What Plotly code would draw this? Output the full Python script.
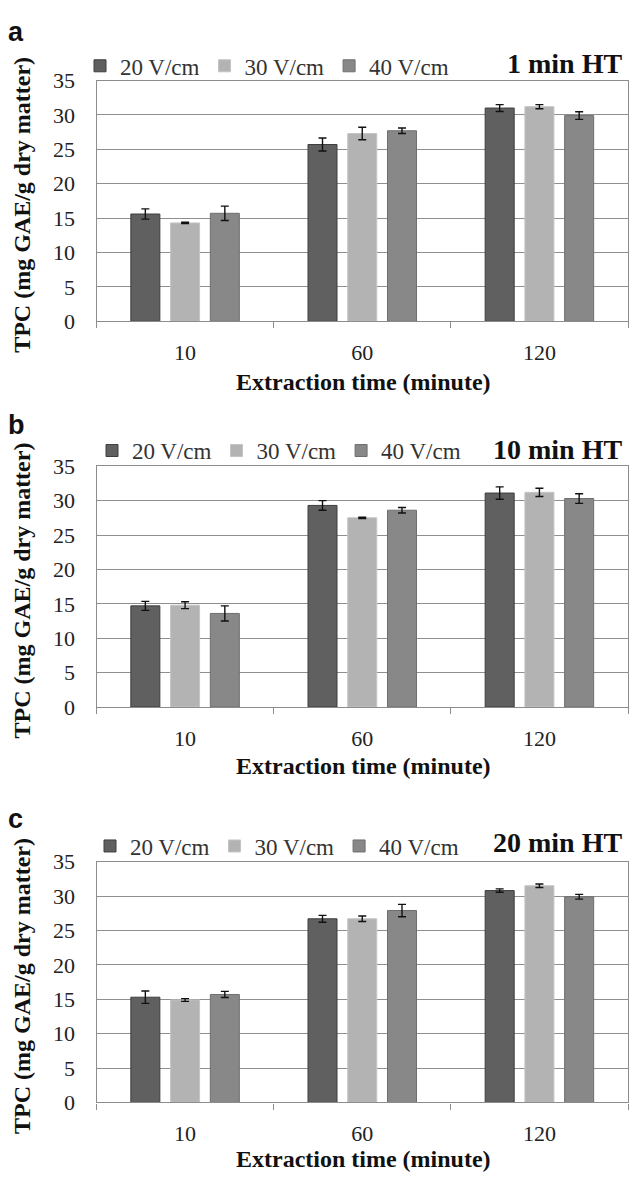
import plotly.graph_objects as go

W, H = 630, 1184

categories = ["10", "60", "120"]
series_names = ["20 V/cm", "30 V/cm", "40 V/cm"]
panel_titles = ["1 min HT", "10 min HT", "20 min HT"]
panel_letters = ["a", "b", "c"]

# panel a (1 min HT)
a_20 = [15.6, 25.7, 31.0]
a_30 = [14.3, 27.3, 31.2]
a_40 = [15.7, 27.7, 29.9]
a_20_err = [0.75, 0.95, 0.5]
a_30_err = [0.1, 0.9, 0.3]
a_40_err = [1.05, 0.4, 0.55]

# panel b (10 min HT)
b_20 = [14.7, 29.3, 31.1]
b_30 = [14.8, 27.5, 31.2]
b_40 = [13.6, 28.6, 30.3]
b_20_err = [0.65, 0.7, 0.9]
b_30_err = [0.5, 0.1, 0.6]
b_40_err = [1.1, 0.4, 0.7]

# panel c (20 min HT)
c_20 = [15.3, 26.7, 30.8]
c_30 = [14.9, 26.7, 31.5]
c_40 = [15.7, 27.9, 29.9]
c_20_err = [0.9, 0.5, 0.25]
c_30_err = [0.2, 0.4, 0.25]
c_40_err = [0.45, 0.9, 0.35]

values = [[a_20, a_30, a_40], [b_20, b_30, b_40], [c_20, c_30, c_40]]
errors = [[a_20_err, a_30_err, a_40_err], [b_20_err, b_30_err, b_40_err], [c_20_err, c_30_err, c_40_err]]

fills = ["#606060", "#b3b3b3", "#888888"]
edges = ["#3e3e3e", "#c4c4c4", "#6e6e6e"]

# layout in pixels
plot_x0, plot_x1 = 96.5, 628
plot_tops = [70, 464, 868]
plot_bots = [316, 710, 1114]
tick_standoff = [11, 11, 11]
xtitle_off = [62, 60, 58]
legend_y = [55, 448, 852]
legend_x = [80, 92, 90]
title_y = [53, 447, 848]
letter_y = [20, 422, 824]

serif = "Liberation Serif"


def px(x):
    return x / W


def py(y):
    return 1 - y / H


fig = go.Figure()
annotations = []
layout = {}

for i in range(3):
    sfx = "" if i == 0 else str(i + 1)
    for j in range(3):
        fig.add_trace(go.Bar(
            x=categories, y=values[i][j], name=series_names[j],
            marker=dict(color=fills[j], line=dict(color=edges[j], width=1)),
            error_y=dict(type="data", array=errors[i][j], color="#111111", thickness=1.4, width=4),
            xaxis="x" + sfx, yaxis="y" + sfx, legend="legend" + sfx,
            showlegend=True,
        ))
    top = plot_tops[i]
    bot = plot_bots[i]
    layout["xaxis" + sfx] = dict(
        domain=[px(plot_x0), px(plot_x1)], anchor="y" + sfx, type="category",
        tickson="boundaries", ticks="outside", ticklen=6, tickcolor="#8c8c8c", tickwidth=1.2,
        showline=True, linecolor="#8c8c8c", linewidth=1.3, mirror=True, showgrid=False,
        tickfont=dict(family=serif, size=22, color="#222222"), ticklabelstandoff=tick_standoff[i],
    )
    layout["yaxis" + sfx] = dict(
        domain=[py(bot), py(top)], anchor="x" + sfx, range=[0, 35], dtick=5, tick0=0,
        showgrid=True, gridcolor="#8f8f8f", gridwidth=1.3, zeroline=False,
        showline=True, linecolor="#8c8c8c", linewidth=1.3, mirror=True, ticks="",
        tickfont=dict(family=serif, size=22, color="#222222"), ticklabelstandoff=16,
    )
    layout["legend" + sfx] = dict(
        orientation="h", x=px(legend_x[i]), y=py(legend_y[i]), xanchor="left", yanchor="middle",
        font=dict(family=serif, size=23, color="#333333"), bgcolor="rgba(0,0,0,0)",
        borderwidth=0, itemwidth=30, traceorder="normal", itemclick=False,
    )
    # panel letter
    annotations.append(dict(text="<b>" + panel_letters[i] + "</b>", x=px(6), y=py(letter_y[i]),
                            xref="paper", yref="paper", xanchor="left", yanchor="middle",
                            showarrow=False, font=dict(family="Liberation Sans", size=27, color="#111111")))
    # panel title
    annotations.append(dict(text="<b>" + panel_titles[i] + "</b>", x=px(624), y=py(title_y[i]),
                            xref="paper", yref="paper", xanchor="right", yanchor="middle",
                            showarrow=False, font=dict(family=serif, size=28, color="#111111")))
    # y title
    annotations.append(dict(text="<b>TPC (mg GAE/g dry matter)</b>", x=px(22), y=py((top + bot) / 2 + 4),
                            xref="paper", yref="paper", xanchor="center", yanchor="middle", textangle=-90,
                            showarrow=False, font=dict(family=serif, size=24, color="#111111")))
    # x title
    annotations.append(dict(text="<b>Extraction time (minute)</b>", x=px((plot_x0 + plot_x1) / 2 + 1),
                            y=py(bot + xtitle_off[i]), xref="paper", yref="paper", xanchor="center",
                            yanchor="middle", showarrow=False,
                            font=dict(family=serif, size=24, color="#111111")))

fig.update_layout(
    width=W, height=H, margin=dict(l=0, r=0, t=0, b=0),
    font=dict(family=serif, color="#222222"),
    paper_bgcolor="white", plot_bgcolor="white",
    barmode="group", bargap=0.327, bargroupgap=0.27,
    annotations=annotations, **layout,
)

fig.write_html("out.html")
